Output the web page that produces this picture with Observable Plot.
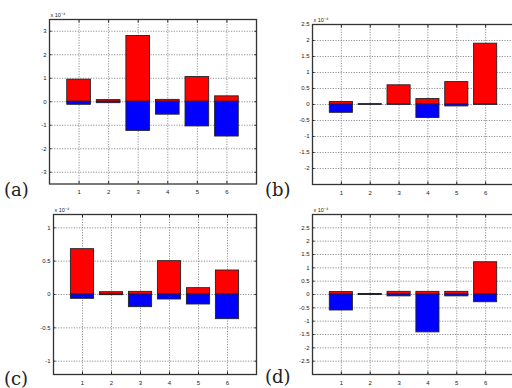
<!DOCTYPE html>
<html>
<head>
<meta charset="utf-8">
<script src="https://cdn.jsdelivr.net/npm/d3@7"></script>
<script src="https://cdn.jsdelivr.net/npm/@observablehq/plot@0.6"></script>
<style>
  html, body { margin: 0; padding: 0; background: #fff; }
  #page { position: relative; width: 512px; height: 388px; overflow: hidden; background: #fff; }
  .panel { position: absolute; overflow: visible; z-index: 1; }
  .tag { position: absolute; z-index: 3; font-family: "DejaVu Serif", "Liberation Serif", serif; font-size: 18px; color: #222; line-height: 20px; }
</style>
</head>
<body>
<div id="page"></div>
<script>
// ---- data (values in units of 1e-4) ----
const categories = [1, 2, 3, 4, 5, 6];

const redA  = [0.94, 0.07, 2.80, 0.08, 1.05, 0.23];
const blueA = [-0.13, -0.06, -1.24, -0.55, -1.05, -1.48];

const redB  = [0.08, 0.01, 0.60, 0.17, 0.70, 1.90];
const blueB = [-0.26, -0.01, -0.01, -0.42, -0.06, -0.01];

const redC  = [0.68, 0.035, 0.04, 0.50, 0.095, 0.36];
const blueC = [-0.065, -0.01, -0.19, -0.075, -0.15, -0.37];

const redD  = [0.09, 0.02, 0.10, 0.10, 0.10, 1.21];
const blueD = [-0.60, -0.02, -0.07, -1.42, -0.07, -0.29];

const yTicksA = [-3, -2, -1, 0, 1, 2, 3];
const yTicksB = [-2, -1.5, -1, -0.5, 0, 0.5, 1, 1.5, 2, 2.5];
const yTicksC = [-1, -0.5, 0, 0.5, 1];
const yTicksD = [-2.5, -2, -1.5, -1, -0.5, 0, 0.5, 1, 1.5, 2, 2.5];

const tags = ["(a)", "(b)", "(c)", "(d)"];
const expLabel = "x 10\u207B\u2074";

// ---- layout ----
const panels = [
  {tag: tags[0], red: redA, blue: blueA, yDomain: [-3.5, 3.5], yTicks: yTicksA,
   left: 0, top: 0, w: 258, h: 200, ml: 49, mt: 19, mr: 2, mb: 16.5, tagX: 4, tagY: 180},
  {tag: tags[1], red: redB, blue: blueB, yDomain: [-2.5, 2.5], yTicks: yTicksB,
   left: 256, top: 0, w: 258, h: 200, ml: 56, mt: 24, mr: 0, mb: 16, tagX: 265, tagY: 180},
  {tag: tags[2], red: redC, blue: blueC, yDomain: [-1.2, 1.2], yTicks: yTicksC,
   left: 0, top: 195, w: 258, h: 193, ml: 53, mt: 19, mr: 2, mb: 14, tagX: 4, tagY: 369},
  {tag: tags[3], red: redD, blue: blueD, yDomain: [-3, 3], yTicks: yTicksD,
   left: 256, top: 195, w: 258, h: 193, ml: 56, mt: 19, mr: 0, mb: 14, tagX: 265, tagY: 367}
];

const page = document.getElementById("page");
const fmt = d => String(d);

for (const p of panels) {
  const redRows = categories.map((c, i) => ({c, v: p.red[i]}));
  const blueRows = categories.map((c, i) => ({c, v: p.blue[i]}));
  const grid = {stroke: "#777", strokeOpacity: 1, strokeWidth: 0.8, strokeDasharray: "1.2,1.4"};
  const barStyle = {x1: d => d.c - 0.4, x2: d => d.c + 0.4, y1: 0, y2: "v", stroke: "#222", strokeWidth: 0.9};

  const chart = Plot.plot({
    width: p.w, height: p.h,
    marginLeft: p.ml, marginTop: p.mt, marginRight: p.mr, marginBottom: p.mb,
    style: {fontSize: "6px", fontFamily: "Liberation Sans, Arial, sans-serif", background: "transparent", overflow: "visible", color: "#222"},
    x: {domain: [0, 7], label: null},
    y: {domain: p.yDomain, label: null},
    marks: [
      Plot.gridX(categories, grid),
      Plot.gridY(p.yTicks, grid),
      Plot.rect(redRows, {...barStyle, fill: "#ff0000"}),
      Plot.rect(blueRows, {...barStyle, fill: "#0000ff"}),
      Plot.axisX(categories, {anchor: "bottom", tickSize: -2.5, tickFormat: fmt, tickPadding: 8.5, label: null}),
      Plot.axisX(categories, {anchor: "top", tickSize: -2.5, text: null, label: null}),
      Plot.axisY(p.yTicks, {anchor: "left", tickSize: -2.5, tickFormat: fmt, tickPadding: 5.5, label: null}),
      Plot.axisY(p.yTicks, {anchor: "right", tickSize: -2.5, text: null, label: null}),
      Plot.text([expLabel], {frameAnchor: "top-left", text: d => d, dy: -6, dx: 1, fontSize: 5.5, textAnchor: "start"}),
      Plot.frame({stroke: "#333", strokeWidth: 1.3})
    ]
  });
  chart.classList.add("panel");
  chart.style.left = p.left + "px";
  chart.style.top = p.top + "px";
  page.appendChild(chart);

  const t = document.createElement("div");
  t.className = "tag";
  t.textContent = p.tag;
  t.style.left = p.tagX + "px";
  t.style.top = p.tagY + "px";
  page.appendChild(t);
}
</script>
</body>
</html>
